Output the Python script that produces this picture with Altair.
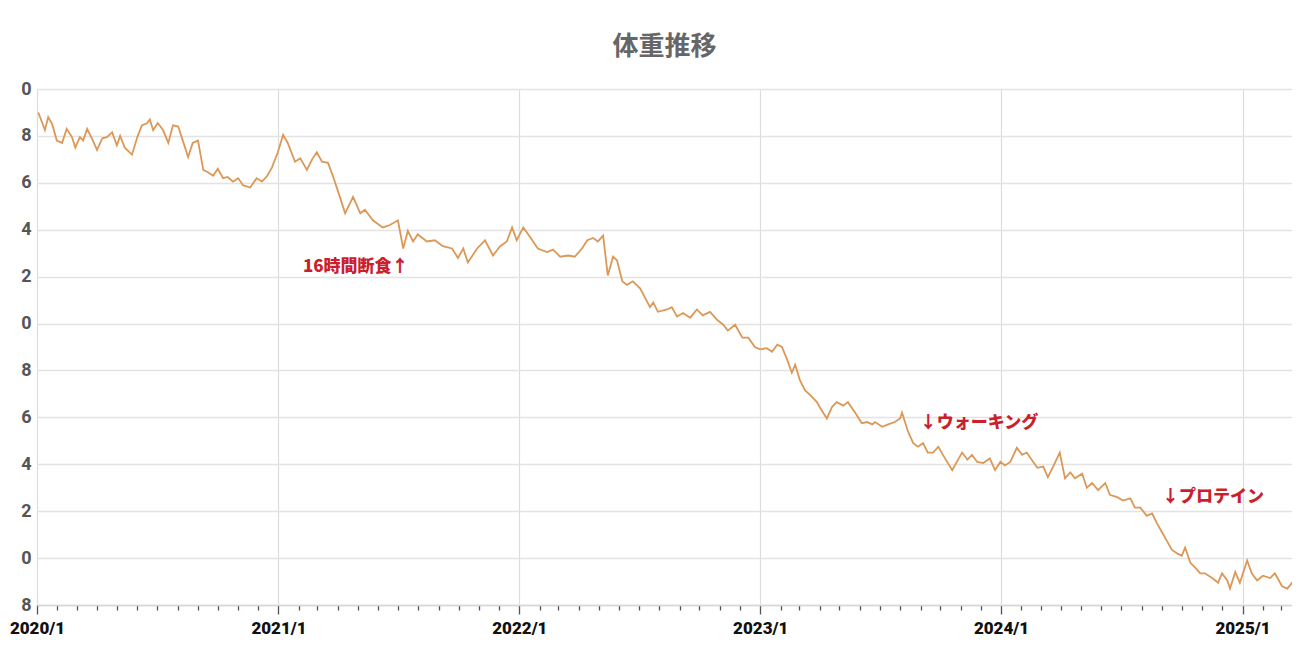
import altair as alt
import pandas as pd

# days since 2020-01-01 for each reading
days = [2, 12, 17, 23, 30, 38, 45, 53, 58, 65, 70, 76, 83, 91, 99, 106, 114, 121, 126, 133,
        144, 152, 159, 167, 171, 176, 183, 191, 199, 206, 214, 221, 229, 236, 244, 252, 259, 267, 274, 282,
        289, 297, 305, 312, 323, 333, 341, 349, 356, 365, 373, 380, 391, 399, 409, 417, 424, 432, 441, 449,
        459, 467, 479, 490, 497, 509, 524, 535, 547, 555, 562, 570, 577, 591, 603, 615, 629, 638, 646, 653,
        667, 679, 691, 702, 712, 720, 727, 737, 747, 759, 773, 782, 793, 805, 815, 826, 834, 843, 850, 858,
        865, 873, 879, 887, 894, 903, 914, 929, 934, 941, 955, 962, 970, 979, 990, 1000, 1009, 1020, 1031, 1040,
        1047, 1058, 1069, 1078, 1088, 1096, 1106, 1114, 1122, 1129, 1137, 1144, 1149, 1156, 1164, 1172, 1182, 1187, 1197, 1205,
        1212, 1222, 1229, 1240, 1250, 1258, 1266, 1270, 1281, 1290, 1300, 1308, 1311, 1320, 1328, 1335, 1343, 1350, 1358, 1366,
        1373, 1387, 1394, 1402, 1410, 1417, 1425, 1434, 1444, 1452, 1460, 1467, 1475, 1485, 1493, 1500, 1516, 1525, 1532, 1540,
        1550, 1558, 1566, 1573, 1584, 1591, 1599, 1608, 1619, 1626, 1637, 1646, 1657, 1664, 1672, 1682, 1690, 1697, 1705, 1713,
        1720, 1728, 1735, 1740, 1748, 1755, 1763, 1770, 1781, 1790, 1796, 1804, 1808, 1816, 1823, 1834, 1841, 1849, 1858, 1869,
        1876, 1887, 1895, 1902, 1910, 1914]

weights = [89.0, 88.25, 88.8, 88.5, 87.8, 87.7, 88.3, 87.95, 87.5, 87.95, 87.8, 88.3, 87.9, 87.4, 87.9, 87.95, 88.15, 87.6, 88.0, 87.5,
           87.2, 87.95, 88.45, 88.55, 88.7, 88.25, 88.55, 88.25, 87.7, 88.45, 88.4, 87.8, 87.1, 87.7, 87.8, 86.55, 86.45, 86.3, 86.6, 86.2,
           86.25, 86.05, 86.2, 85.9, 85.8, 86.2, 86.05, 86.3, 86.65, 87.3, 88.05, 87.7, 86.9, 87.05, 86.55, 87.0, 87.3, 86.9, 86.85, 86.25,
           85.4, 84.7, 85.4, 84.7, 84.85, 84.4, 84.1, 84.2, 84.4, 83.2, 83.95, 83.5, 83.8, 83.5, 83.55, 83.3, 83.2, 82.8, 83.2, 82.6,
           83.2, 83.55, 82.9, 83.3, 83.5, 84.1, 83.55, 84.1, 83.7, 83.2, 83.05, 83.15, 82.85, 82.9, 82.85, 83.2, 83.55, 83.65, 83.5, 83.75,
           82.05, 82.85, 82.7, 81.8, 81.65, 81.8, 81.5, 80.7, 80.9, 80.5, 80.6, 80.7, 80.3, 80.45, 80.25, 80.6, 80.35, 80.5, 80.15, 79.95,
           79.7, 79.95, 79.4, 79.4, 79.0, 78.9, 78.95, 78.8, 79.1, 79.0, 78.45, 77.9, 78.25, 77.6, 77.15, 76.95, 76.65, 76.4, 75.95, 76.45,
           76.65, 76.5, 76.65, 76.2, 75.75, 75.8, 75.7, 75.8, 75.6, 75.7, 75.8, 75.95, 76.2, 75.4, 74.9, 74.75, 74.9, 74.5, 74.5, 74.75,
           74.4, 73.75, 74.1, 74.5, 74.2, 74.4, 74.1, 74.05, 74.25, 73.75, 74.1, 73.95, 74.1, 74.7, 74.4, 74.5, 73.85, 73.9, 73.45, 73.9,
           74.5, 73.4, 73.65, 73.4, 73.6, 73.0, 73.2, 72.9, 73.2, 72.7, 72.6, 72.45, 72.55, 72.15, 72.15, 71.8, 71.9, 71.5, 71.1, 70.7,
           70.35, 70.2, 70.1, 70.45, 69.8, 69.6, 69.35, 69.35, 69.15, 68.95, 69.35, 69.05, 68.7, 69.4, 68.95, 69.9, 69.35, 69.05, 69.25, 69.15,
           69.35, 68.8, 68.7, 68.95, 68.9, 68.8]

y_ticks = [68, 70, 72, 74, 76, 78, 80, 82, 84, 86, 88, 90]

note_texts = ["16時間断食↑", "↓ウォーキング", "↓プロテイン"]
note_days = [403, 1338, 1705]
note_weights = [82.4, 75.75, 72.6]

start = pd.Timestamp("2020-01-01")
df = pd.DataFrame({
    "date": [(start + pd.Timedelta(days=d)).strftime("%Y-%m-%d") for d in days],
    "weight": weights,
})
notes = pd.DataFrame({
    "date": [(start + pd.Timedelta(days=d)).strftime("%Y-%m-%d") for d in note_days],
    "weight": note_weights,
    "text": note_texts,
})

jan = "utcmonth(datum.value) == 0"

x_enc = alt.X(
    "date:T",
    scale=alt.Scale(type="utc",
                    domain=[alt.DateTime(year=2020, month=1, date=1, utc=True),
                            alt.DateTime(year=2025, month=3, date=17, utc=True)]),
    axis=alt.Axis(
        title=None,
        tickCount={"interval": "month", "step": 1},
        labelExpr=f"{jan} ? utcFormat(datum.value, '%Y/1') : ''",
        labelOverlap=False,
        labelFlush=False,
        labelFont="Roboto",
        labelFontWeight=900,
        labelFontSize=17,
        labelColor="#111",
        labelPadding=6,
        tickSize={"condition": {"test": jan, "value": 9}, "value": 5},
        tickColor="#555",
        tickWidth=1.3,
        domainColor="#d6d6d6",
        domainWidth=1.5,
        grid=True,
        gridColor="#dcdcdc",
        gridWidth=1.2,
        gridOpacity={"condition": {"test": jan, "value": 1}, "value": 0},
    ),
)

y_enc = alt.Y(
    "weight:Q",
    scale=alt.Scale(domain=[68, 90], nice=False, zero=False),
    axis=alt.Axis(
        title=None,
        values=y_ticks,
        labelExpr="datum.value % 10",
        labelFont="Roboto",
        labelFontWeight="bold",
        labelFontSize=18,
        labelColor="#555",
        labelPadding=6,
        ticks=False,
        domain=False,
        grid=True,
        gridColor="#e3e3e3",
        gridWidth=1.6,
    ),
)

line = alt.Chart(df).mark_line(color="#dc9856", strokeWidth=1.8, clip=True).encode(x=x_enc, y=y_enc)

text = alt.Chart(notes).mark_text(
    align="left", baseline="middle", font="Noto Sans CJK JP", fontWeight=900,
    fontSize=17, color="#cc1f2d",
).encode(x="date:T", y="weight:Q", text="text:N")

chart = (line + text).properties(
    width=1255,
    height=516,
    title=alt.TitleParams("体重推移", font="Noto Sans CJK JP", fontSize=26, fontWeight="bold",
                          color="#666", anchor="middle", offset=20),
    autosize=alt.AutoSizeParams(type="none"),
    padding={"left": 29, "top": 81, "right": 0, "bottom": 40},
).configure_view(stroke=None).configure(background="white")

chart.save("out.html", embed_options={"renderer": "svg", "actions": False})
